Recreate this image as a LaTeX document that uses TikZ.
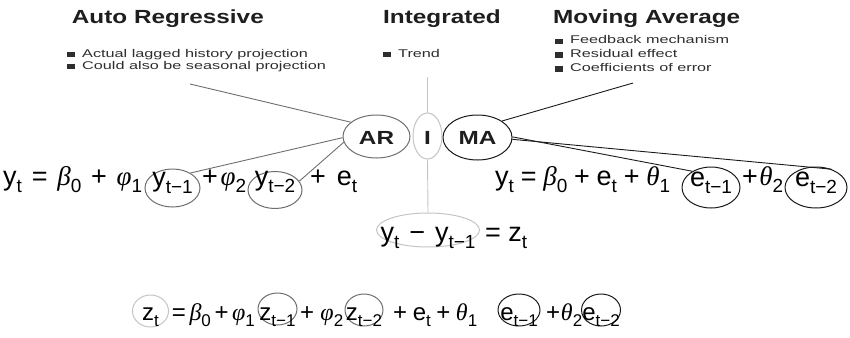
\documentclass[tikz,border=0pt]{standalone}
\usepackage{fontspec}
\usetikzlibrary{shapes.geometric}
\setmainfont{Liberation Sans}
\newfontfamily\hdfont[FakeStretch=1.28]{Liberation Sans}
\newfontfamily\blfont[FakeStretch=1.45]{Liberation Sans}
\newfontfamily\grkfont{Liberation Serif}
\newcommand\gk[1]{{\grkfont\itshape #1}}
\newcommand\sbs[1]{\raisebox{-6.5pt}{\fontsize{17}{17}\selectfont #1}}
\newcommand\sbl[1]{\raisebox{-7pt}{\fontsize{19}{19}\selectfont #1}}
\newcommand\spread[2]{\makebox[#1pt][s]{#2}}
\newcommand\rtxt[2]{\makebox[0pt]{\raisebox{#1pt}{#2}}}
\definecolor{hdtxt}{HTML}{1E1E1E}
\definecolor{bltxt}{HTML}{2E2E2E}
\definecolor{argray}{HTML}{6E6E6E}
\definecolor{igray}{HTML}{C4C4C4}
\definecolor{madark}{HTML}{1A1A1A}
\newcommand\sq{\textcolor{bltxt}{\rule{8pt}{5.5pt}}\hspace{7pt}}
\begin{document}
\begin{tikzpicture}[x=1pt,y=-1pt,
  hd/.style={font=\hdfont\bfseries\fontsize{19}{22}\selectfont, text=hdtxt, inner sep=0, anchor=base west},
  bl/.style={font=\blfont\fontsize{11.2}{13}\selectfont, text=bltxt, inner sep=0, anchor=base west},
  eq/.style={font=\fontsize{24}{28}\selectfont, inner sep=0, anchor=base west},
  eqL/.style={font=\fontsize{27}{31}\selectfont, inner sep=0, anchor=base west},
  ring/.style={ellipse, draw=#1, line width=1pt, inner sep=0, text height=0pt, text depth=0pt, font=\fontsize{24}{28}\selectfont},
  ringL/.style={ring=#1, font=\fontsize{27}{31}\selectfont},
  big/.style={font=\hdfont\bfseries\fontsize{19}{22}\selectfont, text=hdtxt},
  arline/.style={draw=argray, line width=0.9pt},
  iline/.style={draw=igray, line width=0.9pt},
  maline/.style={draw=madark, line width=0.9pt}]
\useasboundingbox (0,0) rectangle (850,337);

% headings
\node[hd] (hAR) at (71.7,23.5) {Auto Regressive};
\node[hd] (hI) at (383,24) {Integrated};
\node[hd] (hMA) at (553,24) {Moving Average};

% bullets
\node[bl] (ar1) at (67,57.3) {\sq Actual lagged history projection};
\node[bl] (ar2) at (67,69.3) {\sq Could also be seasonal projection};
\node[bl] (i1) at (383,57.3) {\sq Trend};
\node[bl] (ma1) at (555,44) {\sq Feedback mechanism};
\node[bl] (ma2) at (555,57.5) {\sq Residual effect};
\node[bl] (ma3) at (555,71.5) {\sq Coefficients of error};

\coordinate (arpt) at (190,84);
\coordinate (ipt) at (427.5,77);
\coordinate (mapt) at (633,83);

% central ellipses
\node[ring=argray, big, minimum width=67pt, minimum height=43pt] (AR) at (376.5,136.5) {\rtxt{-7.5}{AR}};
\node[ring=igray, big, minimum width=29pt, minimum height=46pt] (I) at (427.5,136) {\rtxt{-8}{I}};
\node[ring=madark, big, minimum width=69pt, minimum height=45pt] (MA) at (477.5,137.5) {\rtxt{-6.5}{MA}};

% AR equation
\node[eqL] (e1a) at (3,185) {\spread{139}{y\sbl{t}\hfill=\hfill\gk{β}\sbl{0}\hfill+\hfill\gk{φ}\sbl{1}}};
\node[ringL=argray, minimum width=55pt, minimum height=38pt] (cy1) at (172.5,188) {\rtxt{2}{y\sbl{t−1}}};
\node[eqL] (e1b) at (202,185) {\spread{44}{+\hfill\gk{φ}\sbl{2}}};
\node[ringL=argray, minimum width=54pt, minimum height=37pt] (cy2) at (275,190) {\rtxt{4.5}{y\sbl{t−2}}};
\node[eqL] (e1c) at (310,185) {\spread{47}{+\hfill e\sbl{t}}};

% MA equation
\node[eqL] (e2a) at (495,185) {\spread{175}{y\sbl{t}\hfill=\hfill\gk{β}\sbl{0}\hfill+\hfill e\sbl{t}\hfill+\hfill\gk{θ}\sbl{1}}};
\node[ringL=madark, minimum width=58pt, minimum height=41pt] (ce1) at (711,187.5) {\rtxt{1.5}{e\sbl{t−1}}};
\node[eqL] (e2b) at (742,185) {\spread{41}{+\hfill\gk{θ}\sbl{2}}};
\node[ringL=madark, minimum width=62pt, minimum height=41pt] (ce2) at (816,187.5) {\rtxt{1.5}{e\sbl{t−2}}};

% difference
\node[ringL=igray, minimum width=103pt, minimum height=34pt] (diff) at (428,230) {\rtxt{-11.7}{\spread{95}{y\sbl{t}\hfill−\hfill y\sbl{t−1}}}};
\node[eqL] (dz) at (485,241.7) {\spread{42}{=\hfill z\sbl{t}}};

% bottom equation
\node[ring=igray, minimum width=36pt, minimum height=32pt] (bzt) at (150.5,311) {\rtxt{-9}{z\sbs{t}}};
\node[eq] (b1) at (171.7,320) {\spread{83}{=\hfill\gk{β}\sbs{0}\hfill+\hfill\gk{φ}\sbs{1}}};
\node[ring=argray, minimum width=39pt, minimum height=32pt] (bz1) at (277.5,309) {\rtxt{-11}{z\sbs{t−1}}};
\node[eq] (b2) at (300,320) {\spread{43}{+\hfill\gk{φ}\sbs{2}}};
\node[ring=argray, minimum width=38pt, minimum height=32pt] (bz2) at (364,310) {\rtxt{-10}{z\sbs{t−2}}};
\node[eq] (b3) at (393,320) {\spread{84}{+\hfill e\sbs{t}\hfill+\hfill\gk{θ}\sbs{1}}};
\node[ring=madark, minimum width=42pt, minimum height=32pt] (be1) at (519,310) {\rtxt{-10}{e\sbs{t−1}}};
\node[eq] (b4) at (546,320) {\spread{36}{+\hfill\gk{θ}\sbs{2}}};
\node[ring=madark, minimum width=39pt, minimum height=32pt] (be2) at (601,310) {\rtxt{-10}{e\sbs{t−2}}};

% connectors
\draw[arline] (arpt) -- (AR.151);
\draw[arline] (AR.182) -- (cy1.40);
\draw[arline] (AR.190) -- (cy2.20);
\draw[iline] (ipt) -- (I.north);
\draw[iline] (I.south) -- (diff.north);
\draw[maline] (MA.34) -- (mapt);
\draw[maline] (MA.1) -- (ce1.139);
\draw[maline] (MA.-3) -- (ce2.50);
\end{tikzpicture}
\end{document}
